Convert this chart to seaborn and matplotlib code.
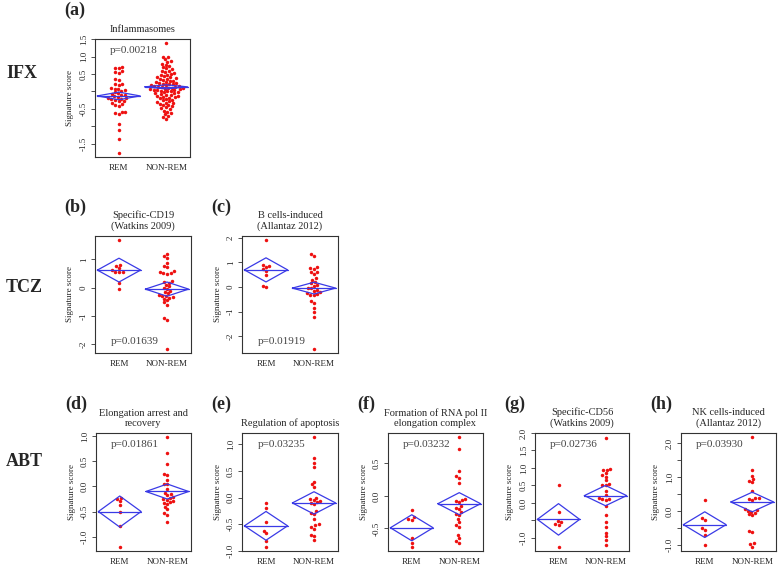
import matplotlib
matplotlib.use("Agg")
import matplotlib.pyplot as plt
import pandas as pd
import seaborn as sns

#---------------------------------------------------------------------------
# DATA
#---------------------------------------------------------------------------
groups = ["REM", "NON-REM"]

# (a) IFX - Inflammasomes
rem_a = [0.70, 0.68, 0.66, 0.58, 0.55, 0.52, 0.36, 0.33, 0.22, 0.20, 0.18,
         0.10, 0.08, 0.06, 0.03, 0.01, -0.02, -0.05, -0.07, -0.09, -0.11,
         -0.13, -0.15, -0.18, -0.20, -0.21, -0.23, -0.25, -0.27, -0.29,
         -0.32, -0.35, -0.38, -0.41, -0.58, -0.60, -0.62, -0.65, -0.95,
         -1.10, -1.36, -1.76]
nonrem_a = [1.38, 1.00, 0.98, 0.93, 0.88, 0.85, 0.80, 0.76, 0.72, 0.70, 0.66,
            0.63, 0.60, 0.58, 0.56, 0.53, 0.50, 0.48, 0.46, 0.44, 0.42, 0.40,
            0.38, 0.37, 0.35, 0.33, 0.31, 0.30, 0.28, 0.27, 0.25, 0.24, 0.22,
            0.21, 0.20, 0.18, 0.17, 0.16, 0.15, 0.14, 0.13, 0.12, 0.11, 0.10,
            0.09, 0.08, 0.07, 0.06, 0.05, 0.04, 0.03, 0.02, 0.01, 0.00, -0.02,
            -0.03, -0.05, -0.06, -0.08, -0.09, -0.10, -0.12, -0.13, -0.15,
            -0.17, -0.18, -0.20, -0.22, -0.24, -0.26, -0.28, -0.30, -0.32,
            -0.34, -0.36, -0.38, -0.40, -0.43, -0.46, -0.49, -0.52, -0.55,
            -0.58, -0.62, -0.66, -0.70, -0.74, -0.78]
mean_a = [-0.13, 0.13]
half_a = [0.11, 0.06]

# (b) TCZ - Specific-CD19
rem_b = [1.67, 0.80, 0.75, 0.68, 0.62, 0.57, 0.55, 0.55, 0.15, -0.05]
nonrem_b = [1.18, 1.12, 1.05, 0.88, 0.78, 0.72, 0.58, 0.55, 0.53, 0.52, 0.50,
            0.22, 0.20, 0.18, 0.10, 0.05, 0.00, -0.05, -0.10, -0.15, -0.20,
            -0.25, -0.28, -0.30, -0.32, -0.35, -0.40, -0.45, -0.52, -0.60,
            -1.08, -1.15, -2.15]
mean_b = [0.62, -0.05]
half_b = [0.42, 0.25]

# (c) TCZ - B cells-induced
rem_c = [1.90, 0.88, 0.85, 0.80, 0.72, 0.65, 0.50, 0.05, 0.00]
nonrem_c = [1.35, 1.28, 0.80, 0.78, 0.75, 0.62, 0.60, 0.55, 0.35, 0.30, 0.20,
            0.15, 0.10, 0.05, -0.02, -0.05, -0.10, -0.15, -0.20, -0.25, -0.28,
            -0.30, -0.32, -0.55, -0.65, -0.85, -1.00, -1.20, -2.50]
mean_c = [0.70, -0.04]
half_c = [0.49, 0.24]

# (d) ABT - Elongation arrest and recovery
rem_d = [-0.22, -0.24, -0.29, -0.37, -0.51, -0.78, -1.20]
nonrem_d = [0.98, 0.66, 0.45, 0.25, 0.22, 0.12, 0.05, 0.04, -0.05, -0.12,
            -0.15, -0.17, -0.20, -0.22, -0.24, -0.26, -0.28, -0.30, -0.32,
            -0.35, -0.40, -0.45, -0.52, -0.56, -0.70]
mean_d = [-0.50, -0.10]
half_d = [0.31, 0.15]

# (e) ABT - Regulation of apoptosis
rem_e = [-0.10, -0.20, -0.45, -0.62, -0.67, -0.82, -0.92]
nonrem_e = [1.13, 0.75, 0.65, 0.57, 0.30, 0.25, 0.20, 0.00, -0.02, -0.05,
            -0.07, -0.08, -0.10, -0.12, -0.25, -0.28, -0.30, -0.40, -0.50,
            -0.52, -0.55, -0.58, -0.70, -0.72, -0.80]
mean_e = [-0.53, -0.10]
half_e = [0.27, 0.21]

# (f) ABT - Formation of RNA pol II elongation complex
rem_f = [-0.22, -0.33, -0.35, -0.37, -0.65, -0.72, -0.78]
nonrem_f = [0.90, 0.72, 0.38, 0.30, 0.28, 0.20, -0.05, -0.06, -0.08, -0.10,
            -0.15, -0.18, -0.20, -0.25, -0.28, -0.30, -0.35, -0.40, -0.45,
            -0.48, -0.60, -0.65, -0.70, -0.72]
mean_f = [-0.49, -0.12]
half_f = [0.20, 0.17]

# (g) ABT - Specific-CD56
rem_g = [0.50, -0.27, -0.52, -0.55, -0.60, -0.62, -1.25]
nonrem_g = [1.85, 0.97, 0.95, 0.93, 0.85, 0.80, 0.75, 0.65, 0.55, 0.52, 0.50,
            0.35, 0.22, 0.15, 0.12, 0.10, 0.08, -0.10, -0.35, -0.55, -0.70,
            -0.85, -0.95, -1.05, -1.20]
mean_g = [-0.47, 0.21]
half_g = [0.45, 0.29]

# (h) ABT - NK cells-induced
rem_h = [0.32, -0.20, -0.25, -0.50, -0.55, -0.72, -1.00]
nonrem_h = [2.18, 1.22, 1.05, 0.95, 0.90, 0.85, 0.60, 0.40, 0.38, 0.35, 0.32,
            0.05, 0.03, 0.00, -0.02, -0.05, -0.10, -0.12, -0.60, -0.62, -0.95,
            -0.97, -1.05]
mean_h = [-0.40, 0.27]
half_h = [0.38, 0.29]

titles = ["Inflammasomes", "Specific-CD19\n(Watkins 2009)",
          "B cells-induced\n(Allantaz 2012)", "Elongation arrest and\nrecovery",
          "Regulation of apoptosis", "Formation of RNA pol II\nelongation complex",
          "Specific-CD56\n(Watkins 2009)", "NK cells-induced\n(Allantaz 2012)"]
pvals = ["p=0.00218", "p=0.01639", "p=0.01919", "p=0.01861", "p=0.03235",
         "p=0.03232", "p=0.02736", "p=0.03930"]
letters = ["(a)", "(b)", "(c)", "(d)", "(e)", "(f)", "(g)", "(h)"]

yticks = [[1.5, 1.0, 0.5, 0.0, -0.5, -1.0, -1.5], [1, 0, -1, -2],
          [2, 1, 0, -1, -2], [1.0, 0.5, 0.0, -0.5, -1.0],
          [1.0, 0.5, 0.0, -0.5, -1.0], [0.5, 0.0, -0.5],
          [2.0, 1.5, 1.0, 0.5, 0.0, -0.5, -1.0],
          [2.0, 1.5, 1.0, 0.5, 0.0, -0.5, -1.0]]
yticklabels = [["1.5", "1.0", "0.5", "", "-0.5", "", "-1.5"],
               ["1", "0", "-1", "-2"], ["2", "1", "0", "-1", "-2"],
               ["1.0", "0.5", "0.0", "-0.5", "-1.0"],
               ["1.0", "0.5", "0.0", "-0.5", "-1.0"],
               ["0.5", "0.0", "-0.5"],
               ["2.0", "1.5", "1.0", "0.5", "0.0", "", "-1.0"],
               ["2.0", "", "1.0", "", "0.0", "", "-1.0"]]

#---------------------------------------------------------------------------
# LAYOUT (pixel boxes of the panels: left, top, right, bottom)
#---------------------------------------------------------------------------
W, H = 778, 567
boxes = [(95, 39, 190, 157), (95, 236, 191, 353), (242, 236, 338, 353),
         (96, 433, 191, 551), (242, 433, 338, 551), (388, 433, 483, 551),
         (535, 433, 629, 551), (681, 433, 776, 551)]
p_at_top = [True, False, False, True, True, True, True, True]

sns.set_style("white")
plt.rcParams["font.family"] = ["Liberation Serif", "DejaVu Serif"]

fig = plt.figure(figsize=(W / 100, H / 100), dpi=100)

panels = [(rem_a, nonrem_a, mean_a, half_a), (rem_b, nonrem_b, mean_b, half_b),
          (rem_c, nonrem_c, mean_c, half_c), (rem_d, nonrem_d, mean_d, half_d),
          (rem_e, nonrem_e, mean_e, half_e), (rem_f, nonrem_f, mean_f, half_f),
          (rem_g, nonrem_g, mean_g, half_g), (rem_h, nonrem_h, mean_h, half_h)]

for i, (rem, nonrem, mean, half) in enumerate(panels):
    l, t, r, b = boxes[i]
    ax = fig.add_axes([l / W, 1 - b / H, (r - l) / W, (b - t) / H])
    df = pd.DataFrame({"group": ["REM"] * len(rem) + ["NON-REM"] * len(nonrem),
                       "score": rem + nonrem})
    sns.swarmplot(data=df, x="group", y="score", order=groups, ax=ax,
                  color="#ee1111", size=2.5, linewidth=0)

    # mean diamonds
    for k in range(2):
        m, h = mean[k], half[k]
        ax.plot([k - 0.45, k, k + 0.45, k, k - 0.45], [m, m + h, m, m - h, m],
                color="#3a3ae6", lw=0.9, zorder=5)
        ax.plot([k - 0.45, k + 0.45], [m, m], color="#3a3ae6", lw=0.9, zorder=5)

    vals = rem + nonrem
    lo, hi = min(vals), max(vals)
    pad = 0.04 * (hi - lo)
    ax.set_ylim(lo - pad, hi + pad)
    ax.set_xlim(-0.5, 1.5)

    ax.set_yticks(yticks[i])
    ax.set_yticklabels(yticklabels[i], rotation=90, va="center")
    ax.set_xticks([0, 1])
    ax.set_xticklabels(groups)
    ax.tick_params(axis="x", length=0, pad=5, labelsize=6.5)
    ax.tick_params(axis="y", length=3, width=0.6, pad=2, labelsize=6.5,
                   left=True, color="#333333")
    ax.set_xlabel("")
    ax.set_ylabel("Signature score", fontsize=6.5, labelpad=4)
    for s in ax.spines.values():
        s.set_visible(True)
        s.set_color("#333333")
        s.set_linewidth(0.8)

    ax.set_title(titles[i], fontsize=7.5, pad=5, linespacing=1.2)
    ypos = 0.90 if p_at_top[i] else 0.10
    ax.text(0.16, ypos, pvals[i], transform=ax.transAxes, fontsize=8,
            color="#444444", va="center")

    fig.text((l - 31) / W, 1 - (t - 29) / H, letters[i],
             fontsize=13, fontweight="bold", va="center", ha="left")

# row labels
for name, y in [("IFX", 74), ("TCZ", 288), ("ABT", 462)]:
    fig.text(6 / W, 1 - y / H, name, fontsize=13, fontweight="bold",
             va="center", ha="left")

fig.savefig("out.png", dpi=100)
